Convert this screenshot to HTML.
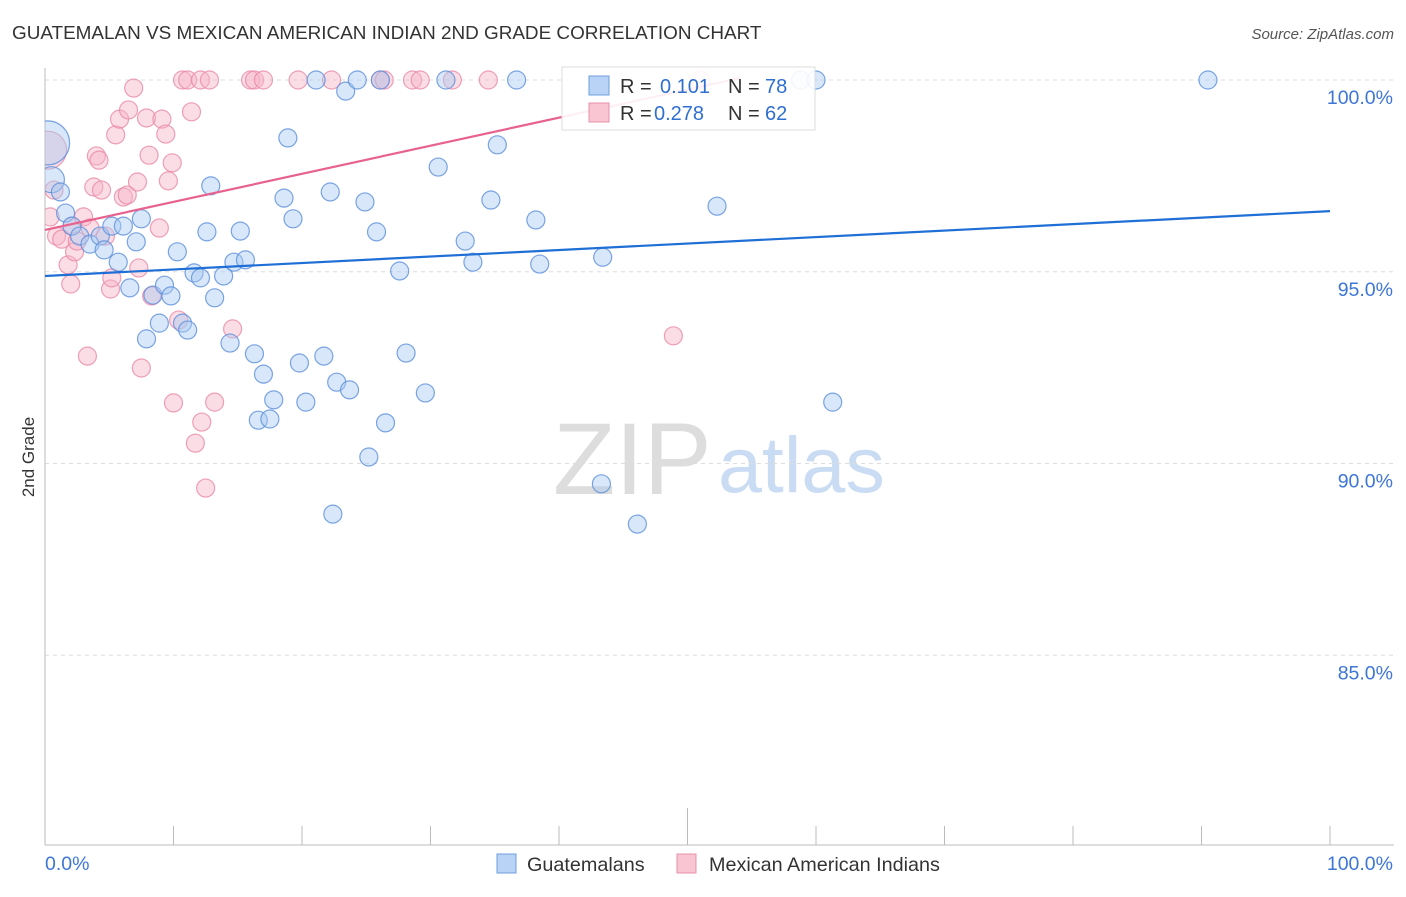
<!DOCTYPE html>
<html><head><meta charset="utf-8"><style>
body{margin:0;background:#fff;font-family:"Liberation Sans",sans-serif}
svg text{font-family:"Liberation Sans",sans-serif}
</style></head><body>
<svg id="chart" width="1406" height="892" xmlns="http://www.w3.org/2000/svg">
<defs><clipPath id="plotclip"><rect x="45" y="50" width="1361" height="795"/></clipPath></defs>
<text x="12" y="39" font-size="18.9" fill="#333">GUATEMALAN VS MEXICAN AMERICAN INDIAN 2ND GRADE CORRELATION CHART</text>
<text x="1394" y="39" font-size="15" fill="#555" text-anchor="end" font-style="italic">Source: ZipAtlas.com</text>
<text transform="translate(34,457) rotate(-90)" font-size="17" fill="#333" text-anchor="middle">2nd Grade</text>
<g>
<text x="553" y="494" font-size="102" fill="#ddd" font-family="Liberation Serif, serif">ZIP</text>
<text x="718" y="492" font-size="79" fill="#c9dcf3">atlas</text>
</g>
<g id="grid"></g><g id="axes"></g><g id="pts" clip-path="url(#plotclip)"></g><g id="trends"></g>
<g>
<rect x="562" y="67" width="253" height="63" fill="#fff" fill-opacity="0.9" stroke="#ddd"/>
<rect x="589" y="76" width="20" height="19" fill="#b8d3f5" stroke="#6f9fdc"/>
<text x="620" y="93" font-size="20" fill="#333">R = </text><text x="660" y="93" font-size="20" fill="#2f6fd0">0.101</text>
<text x="728" y="93" font-size="20" fill="#333">N = </text><text x="765" y="93" font-size="20" fill="#2f6fd0">78</text>
<rect x="589" y="103" width="20" height="19" fill="#f9c5d3" stroke="#e890aa"/>
<text x="620" y="120" font-size="20" fill="#333">R = </text><text x="654" y="120" font-size="20" fill="#2f6fd0">0.278</text>
<text x="728" y="120" font-size="20" fill="#333">N = </text><text x="765" y="120" font-size="20" fill="#2f6fd0">62</text>
</g>
<g>
<rect x="497" y="854" width="19" height="19" fill="#b8d3f5" stroke="#6f9fdc"/>
<text x="527" y="871" font-size="19.8" fill="#333">Guatemalans</text>
<rect x="677" y="854" width="19" height="19" fill="#f9c5d3" stroke="#e890aa"/>
<text x="709" y="871" font-size="19.8" fill="#333">Mexican American Indians</text>
</g>
</svg>
<script>
const yTicks=[100,95,90,85];
const blueX=[0.2,0.5,1.2,1.6,2.1,2.7,3.5,4.3,4.6,5.2,5.7,6.1,6.6,7.1,7.5,7.9,8.4,8.9,9.3,9.8,10.3,10.7,11.1,11.6,12.1,12.6,12.9,13.2,13.9,14.4,14.7,15.2,15.6,16.3,16.6,17.0,17.5,17.8,18.6,18.9,19.3,19.8,20.3,21.1,21.7,22.2,22.4,22.7,23.4,23.7,24.3,24.9,25.2,25.8,26.1,26.5,27.6,28.1,29.6,30.6,31.2,32.7,33.3,34.7,35.2,36.7,38.2,38.5,43.3,43.4,46.1,52.3,58.8,60.0,61.3,90.5];
const blueY=[98.36,97.4,97.08,96.53,96.19,95.93,95.72,95.93,95.57,96.19,95.25,96.19,94.58,95.78,96.38,93.25,94.39,93.66,94.65,94.37,95.52,93.66,93.48,94.97,94.84,96.04,97.24,94.32,94.89,93.14,95.25,96.06,95.31,92.86,91.13,92.33,91.16,91.66,96.92,98.49,96.38,92.62,91.6,100,92.8,97.08,88.68,92.12,99.71,91.92,100,96.82,90.17,96.04,100,91.06,95.02,92.88,91.84,97.73,100,95.8,95.25,96.87,98.31,100,96.35,95.2,89.47,95.38,88.42,96.71,100,100,91.6,100];
const pinkX=[0.2,0.4,0.7,0.9,1.3,1.8,2.0,2.1,2.3,2.5,3.0,3.3,3.5,3.8,4.0,4.2,4.4,4.7,5.1,5.2,5.5,5.8,6.1,6.4,6.5,6.9,7.2,7.3,7.5,7.9,8.1,8.3,8.9,9.1,9.4,9.6,9.9,10.0,10.4,10.7,11.1,11.4,11.7,12.1,12.2,12.5,12.8,13.2,14.6,16.0,16.3,17.0,19.7,22.3,26.1,26.4,28.6,29.2,31.7,34.5,48.9,51.0];
const pinkY=[98.17,96.43,97.13,95.93,95.85,95.18,94.68,96.19,95.52,95.8,96.43,92.8,96.14,97.21,98.02,97.91,97.13,95.93,94.55,94.84,98.57,98.98,96.95,97.0,99.22,99.79,97.34,95.1,92.49,99.01,98.04,94.37,96.14,98.98,98.59,97.37,97.84,91.58,93.74,100,100,99.17,90.53,100,91.08,89.36,100,91.6,93.51,100,100,100,100,100,100,100,100,100,100,100,93.33,100];
const blueTrend=[94.89,96.58];   // value at x=0 and x=100
const pinkTrend=[96.09,100.05];  // value at x=0 and x=54.1
const pinkTrendEnd=54.1;
const X=v=>45+v*12.85, Y=v=>80+(100-v)*38.35;
const NS="http://www.w3.org/2000/svg";
function mk(tag,attrs,parent){const e=document.createElementNS(NS,tag);for(const k in attrs)e.setAttribute(k,attrs[k]);document.getElementById(parent).appendChild(e);return e;}
yTicks.forEach(t=>{
 const l=mk('line',{x1:45,x2:1394,y1:Y(t),y2:Y(t),stroke:'#ddd','stroke-dasharray':'4,4'},'grid');
 
 
 const tx=mk('text',{x:1393,y:Y(t)+24,'font-size':19.5,fill:'#3d76d6','text-anchor':'end'},'grid');
 tx.textContent=t.toFixed(1)+'%';
 
 
});
const ax=mk('line',{x1:45,x2:45,y1:68,y2:845,stroke:'#bbb'},'axes');


const bx=mk('line',{x1:45,x2:1394,y1:845,y2:845,stroke:'#bbb'},'axes');


for(let i=1;i<=10;i++){const tk=mk('line',{x1:X(i*10),x2:X(i*10),y1:i==5?808:826,y2:845,stroke:'#bbb'},'axes');
 
 }
[['0.0%',45,'start'],['100.0%',1393,'end']].forEach(a=>{const t=mk('text',{x:a[1],y:870,'font-size':19.5,fill:'#3d76d6','text-anchor':a[2]},'axes');t.textContent=a[0];
 
 });
function drawPts(xs,ys,fill,stroke,name){xs.forEach((x,i)=>{
 let r=9; if(i===0) r=22; else if(i===1 && name==='guatemalan-point') r=13;
 if(i===0&&name!=='guatemalan-point') r=19;
 const c=mk('circle',{cx:X(x),cy:Y(ys[i]),r:r,fill:fill,'fill-opacity':0.45,stroke:stroke,'stroke-opacity':0.8,'stroke-width':1.2},'pts');
 
 
});}
drawPts(pinkX,pinkY,'#f7b4c7','#e98aa6','mexican-american-indian-point');
drawPts(blueX,blueY,'#a9c9f2','#5b8fdb','guatemalan-point');
const bl=mk('line',{x1:X(0),y1:Y(blueTrend[0]),x2:X(100),y2:Y(blueTrend[1]),stroke:'#1f6fd6','stroke-width':2.2},'trends');


const pl=mk('line',{x1:X(0),y1:Y(pinkTrend[0]),x2:X(pinkTrendEnd),y2:Y(pinkTrend[1]),stroke:'#e8628f','stroke-width':2.2},'trends');


</script>
</body></html>
